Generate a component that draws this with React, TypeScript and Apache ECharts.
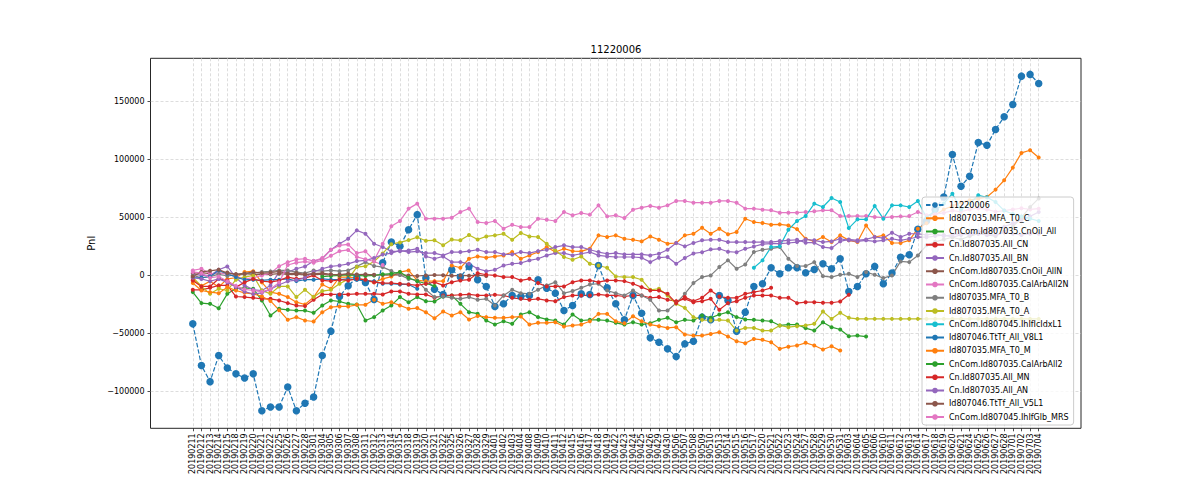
import { useEffect, useRef } from 'react';
import * as echarts from 'echarts';

const DATES = [
  '20190211', '20190212', '20190213', '20190214', '20190215', '20190218', '20190219', '20190220', '20190221', '20190222',
  '20190225', '20190226', '20190227', '20190228', '20190301', '20190304', '20190305', '20190306', '20190307', '20190308',
  '20190311', '20190312', '20190313', '20190314', '20190315', '20190318', '20190319', '20190320', '20190321', '20190322',
  '20190325', '20190326', '20190327', '20190328', '20190329', '20190401', '20190402', '20190403', '20190404', '20190408',
  '20190409', '20190410', '20190411', '20190412', '20190415', '20190416', '20190417', '20190418', '20190419', '20190422',
  '20190423', '20190424', '20190425', '20190426', '20190429', '20190430', '20190506', '20190507', '20190508', '20190509',
  '20190510', '20190513', '20190514', '20190515', '20190516', '20190517', '20190520', '20190521', '20190522', '20190523',
  '20190524', '20190527', '20190528', '20190529', '20190530', '20190531', '20190603', '20190604', '20190605', '20190606',
  '20190610', '20190611', '20190612', '20190613', '20190614', '20190617', '20190618', '20190619', '20190620', '20190621',
  '20190624', '20190625', '20190626', '20190627', '20190628', '20190701', '20190702', '20190703', '20190704',
];

const Y_TICKS = [-100000, -50000, 0, 50000, 100000, 150000];

// account total (big dashed markers)
const TOTAL = [
  -41800, -77800, -91700, -69200, -79900, -85000, -88500, -85000, -116800, -113600,
  -113600, -96300, -116800, -110400, -104900, -69200, -48100, -18200, -8900, -2000,
  -6000, -20800, 11000, 28800, 25100, 39500, 52500, -2300, -12000, -16400,
  4900, -1400, 7800, -3700, -9500, -26800, -24500, -17300, -18200, -17300,
  -3700, -11000, -15300, -30300, -25900, -15900, -16400, 8600, -10700, -24500,
  -38300, -17300, -32600, -53900, -57700, -63400, -70100, -59100, -56800, -36000,
  -38300, -17300, -21600, -48100, -31700, -9500, -7200, 6600, 1400, 6600,
  6600, 2300, 5200, 10100, 5800, 14400, -13800, -9500, 1400, 7800,
  -7200, 2000, 15600, 17900, 39800, 47000, 57000, 67700, 104400, 77000,
  85600, 114700, 112400, 126000, 137000, 147600, 172100, 173600, 165800,
];

const MFA_T0_C = [
  -3000, -9000, -5000, -10000, -3000, -2000, 2900, 3700, -6000, -14400,
  -15900, -18700, -23100, -25100, -18700, -7800, -11500, -1400, -1400, -2000,
  -4300, -6000, -3000, -1000, 2900, 4300, -4300, -4900, -4900, -4900,
  8600, 6600, 14400, 16400, 15300, 16400, 17300, 20200, 14400, 17300,
  20200, 24500, 20200, 23100, 21000, 20800, 23100, 34600, 33200, 34600,
  31700, 30800, 29400, 33700, 30800, 27400, 28000, 34600, 36000, 41200,
  36000, 40400, 35500, 37500, 49000, 46100, 45300, 43800, 44100, 43200,
  40000, 31700, 29400, 33200, 28800, 34600, 30300, 28800, 43200, 33200,
  34600, 28000, 28000, 30300, 40400, 45000, 52000, 57000, 60000, 63000,
  65000, 66300, 67700, 74100, 82200, 93100, 105800, 108100, 101800,
];

const CNOIL_ALL = [
  -14400, -23900, -24500, -28300, -15900, -11500, -10700, -11500, -21600, -34600,
  -28800, -29700, -30300, -30300, -32300, -25900, -21600, -22500, -24500, -25100,
  -38900, -36000, -30300, -25900, -18700, -23100, -18700, -22200, -22500, -18200,
  -17300, -24500, -31700, -33000, -38900, -42400, -39600, -41800, -33700, -31700,
  -36000, -38000, -38900, -42400, -33700, -38900, -38300, -38300, -38900, -40900,
  -42400, -40400, -42400, -41200, -38300, -36600, -40400, -38300, -38900, -34600,
  -36600, -33700, -31700, -36000, -38000, -38300, -38900, -39600, -43200, -42400,
  -42400, -45500, -47600, -40400, -44700, -46700, -52500, -51900, -52800,
];

const ALL_CN = [
  -12400, -12400, -10700, -8600, -8600, -18200, -18700, -19300, -20200, -20200,
  -21600, -23900, -26000, -26500, -21000, -16400, -16400, -16400, -16400, -15900,
  -15900, -15900, -16400, -13800, -13800, -15900, -16400, -16400, -19300, -17300,
  -17300, -16700, -16400, -17300, -17300, -16700, -17300, -19300, -20200, -21000,
  -20200, -21600, -22200, -18700, -17300, -17300, -17300, -16400, -17300, -17300,
  -18200, -17300, -17300, -19300, -18700, -21000, -22200, -20200, -23100, -22200,
  -20200, -29700, -23900, -22200, -19300, -17300, -17300, -17300, -19300, -19300,
  -23900, -23100, -23100, -23600, -23600, -22500, -16700,
];

const ALL_BN = [
  1400, 0, 0, 4900, 7800, -2000, -8600, -12400, -13000, -8600,
  2900, 2900, 5800, 7800, 12400, 14400, 22200, 27400, 31700, 38900,
  36000, 27400, 24500, 20800, 20800, 21600, 23100, 16400, 14400, 16400,
  11500, 11500, 10100, 5800, 3700, 4900, 8600, 10100, 10700, 13000,
  14400, 17300, 19300, 19300, 17300, 18700, 20200, 17300, 16400, 15900,
  15900, 15900, 15300, 11500, 15300, 15900, 10100, 15000, 19000, 20000,
  22500, 23000, 20500, 20000, 23000, 25000, 27000, 27500, 27400, 28000,
  28800, 31100, 30300, 28800, 29400, 31700, 30300, 29400, 30300, 29400,
  30300, 31700, 30300, 31700, 33200, 33000, 34000, 35000, 33000, 35000,
  36000, 38000, 37000, 40000, 42000, 45000, 48000, 51000, 54800,
];

const CNOIL_ALLN = [
  2000, 2500, 1500, 1500, 2500, 1000, 1500, 800, 1200, 1000,
  1500, 1000, 800, 600, 1000, 800, 500, 800, 1000, 500,
  600, 400, 300, 500, 600, 0, -500, 0, 300, 200,
  -300, 0, -200, 300, -500,
];

const CALARB2N = [
  4300, 5800, 1400, 2000, 1000, -1000, -3000, -2000, 0, 2000,
  8000, 11500, 13800, 14400, 12400, 15000, 22200, 25900, 26800, 19300,
  20800, 13000, 27400, 42400, 47000, 57700, 62000, 49000, 49000, 49000,
  49900, 54800, 57700, 46100, 45300, 47000, 40400, 43800, 41800, 41800,
  49000, 48100, 47000, 54800, 51900, 53900, 52500, 60500, 51000, 51900,
  49600, 56800, 58500, 60000, 58500, 60500, 64300, 64300, 62800, 62800,
  62800, 64300, 64300, 62800, 57700, 57700, 56800, 56200, 54200, 54200,
  54200, 54800, 55400, 56200, 56200, 51300, 51300, 51300, 51300, 50500,
  49900, 50500, 51000, 51300, 54800, 52000, 53000, 54000, 56000, 55000,
  57000, 58000, 57000, 55000, 56000, 57000, 58000, 57000, 57700,
];

const MFA_T0_B = [
  0, -2000, -1000, 1000, -500, 500, 1500, 2000, 3000, 3500,
  4300, 4300, 2900, 2000, 4300, 3700, 4300, 3700, 4300, 7800,
  11500, 8200, 7200, 3900, 400, -3000, -4300, -12400, -18700, -18200,
  -19300, -20200, -18700, -21000, -20200, -25900, -17300, -12400, -15300, -15900,
  -12400, -8600, -5800, -15300, -13500, -10700, -7800, -7200, -13000, -15300,
  -17300, -13000, -17300, -21000, -30300, -30300, -23900, -15900, -6600, -1400,
  0, 7200, 13000, 5800, 9500, 20200, 22200, 23100, 24500, 14400,
  8200, 8100, 11500, -600, -1400, 600, 1400, -1400, 2900, 600,
  -2300, 0, 12100, 11500, 17300, 26000, 29000, 31000, 33000, 31000,
  34000, 36000, 35000, 34000, 38000, 42000, 50000, 59000, 66500,
];

const MFA_T0_A = [
  -1400, -9500, -15900, -11500, -13000, -3700, -1400, 0, -13000, -15900,
  -9500, -9500, -18700, -12400, -18700, -13500, -12400, -7200, -3200, 7200,
  8000, 12000, 19000, 27000, 28500, 30500, 33000, 30000, 30300, 26000,
  31000, 30300, 35000, 31000, 33700, 34600, 36000, 30800, 36600, 33700,
  33200, 27400, 21600, 15900, 13500, 16400, 10100, 8600, 6600, -900,
  -1400, -1400, -3700, -12400, -11500, -17300, -24500, -28000, -36000, -38300,
  -38900, -38300, -38900, -47600, -45300, -45300, -47600, -47600, -43200, -44700,
  -43800, -43200, -41800, -31100, -37500, -32300, -36600, -37500, -37500, -37500,
  -37500, -37500, -37500, -37500, -37500, -37500, -37500, -37500, -37500, -37500,
  -37500, -37500, -37500, -37500, -37500, -37500, -37500, -37500, -37500,
];

// starts on 20190517
const IDX_L1_START = 65;
const IDX_L1 = [
  6600, 13000, 24500, 25100, 39500, 47000, 51300, 62000, 59100, 66900,
  63400, 40900, 48400, 48400, 60000, 49000, 60500, 60500, 59100, 64300,
  50000, 56000, 62000, 70600, 57000, 62000, 69200, 67500, 63400, 56000,
  53000, 51000, 49000, 47000,
];

const V8L1 = [
  -2000, -2000, -900, 4300, 1400, -1400, -3700, -3700, -4300, -3700,
  -3700, -2900, -4900, -3700, -3700, -2900, -3700, -3700, -2900, -3700,
  -4900, -4900, -7200, -7200, -7800, -7800, -11500,
];

const MFA_T0_M = [
  -6600, -13000, -14400, -15300, -10100, -13000, -15000, -16000, -18000, -22000,
  -30000, -38300, -36000, -38900, -39800, -31700, -27400, -26800, -26800, -25400,
  -25400, -21000, -24500, -23100, -25900, -28800, -28200, -31700, -36900, -31100,
  -34600, -31700, -38000, -35000, -36000, -36600, -36600, -36000, -35500, -42400,
  -40900, -40900, -40400, -44100, -43200, -42400, -39600, -33200, -33200, -39600,
  -41200, -35200, -39600, -42400, -43800, -45300, -44700, -51000, -51900, -51900,
  -50500, -49000, -52800, -56800, -58500, -54800, -55600, -57700, -63400, -61500,
  -60500, -58200, -60500, -64000, -61100, -64900,
];

// starts on 20190304
const CALARB2_START = 15;
const CALARB2 = [-1000, -500, 0, 500, 0, -500, 0, 1000, 1500, 2900, -2000, -5000, -7000, -9000];

const ALL_MN = [
  -4300, -9500, -9500, -2900, -4300, -10100, -6000, -3000, -5000, -5500,
  -4500, -1500, -2900, -2300, 0, -4300, -4900, -3700, -4300, -2900,
  -3700, -5800, -6600, -6600, -7200, -7800, -8600, -7200, -5800, -8600,
  -5800, -4300, -3700, 2000, 600, 0, -1400, -1400, -4300, -2900,
  -6600, -9500, -9500, -9500, -5800, -4300, -4300, -5800, -4300, -4300,
  -4900, -7200, -10100, -13000, -13000, -15900, -23900, -18700, -22200, -19300,
  -13000, -18200, -19300, -19300, -15900, -14400, -13000, -10700,
];

const ALL_AN = [
  -2000, -3000, -5000, -3000, -6000, -10000, -14000, -16000, -15000, -12000,
  -8000, -5000, -4000, -2000, 3000, 5800, 7800, 8600, 10000, 12400,
  13000, 15000, 18000, 19300, 21600, 20200, 20800, 19300, 19300, 17300,
  20200, 20200, 21000, 22200, 20200, 20200, 18200, 18200, 20200, 19300,
  21000, 22200, 24500, 26000, 24500, 24500, 22200, 20200, 18700, 19300,
  18200, 18200, 18200, 17300, 18700, 22200, 28000, 25100, 28000, 30300,
  30800, 30800, 28800, 28800, 28800, 28800, 28800, 28800, 29700, 30300,
  30800, 28300, 28300, 24500, 23600, 29400, 31100, 30300, 31100, 33200,
  32300, 36900, 33200, 36000, 36000, 35000, 36000, 34000, 35000, 36000,
  35000, 36000, 35000, 35000, 37000, 36000, 35000, 36000, 36000,
];

const V5L1 = [
  -1000, 3000, 4000, 5000, 2000, 1000, 1500, 3000, 2000, 2500,
  3500, 1500, 2000, 1000, 1500, 2000, 1000, 500, 1500, 800,
  1000, 500,
];

const MRS = [
  3000, 2000, -2000, -1000, -5000, -9000, -12000, -13000, -14000, -12000,
  -6000, 9000, 11000, 12000, 11000, 13000, 17000, 21000, 22000, 16000,
  14000, 12000, 9000,
];

const TAB10 = ['#1f77b4', '#ff7f0e', '#2ca02c', '#d62728', '#9467bd', '#8c564b', '#e377c2', '#7f7f7f', '#bcbd22', '#17becf'];

const FONT = 'DejaVu Sans';

export default function App() {
  const chartRef = useRef<HTMLDivElement>(null);

  useEffect(() => {
    if (!chartRef.current) return;
    const chart = echarts.init(chartRef.current, null, { renderer: 'svg' });

    const lines = [
      { name: '11220006', start: 0, values: TOTAL },
      { name: 'Id807035.MFA_T0_C', start: 0, values: MFA_T0_C },
      { name: 'CnCom.Id807035.CnOil_All', start: 0, values: CNOIL_ALL },
      { name: 'Cn.Id807035.All_CN', start: 0, values: ALL_CN },
      { name: 'Cn.Id807035.All_BN', start: 0, values: ALL_BN },
      { name: 'CnCom.Id807035.CnOil_AllN', start: 0, values: CNOIL_ALLN },
      { name: 'CnCom.Id807035.CalArbAll2N', start: 0, values: CALARB2N },
      { name: 'Id807035.MFA_T0_B', start: 0, values: MFA_T0_B },
      { name: 'Id807035.MFA_T0_A', start: 0, values: MFA_T0_A },
      { name: 'CnCom.Id807045.IhIfIcIdxL1', start: IDX_L1_START, values: IDX_L1 },
      { name: 'Id807046.TtTf_All_V8L1', start: 0, values: V8L1 },
      { name: 'Id807035.MFA_T0_M', start: 0, values: MFA_T0_M },
      { name: 'CnCom.Id807035.CalArbAll2', start: CALARB2_START, values: CALARB2 },
      { name: 'Cn.Id807035.All_MN', start: 0, values: ALL_MN },
      { name: 'Cn.Id807035.All_AN', start: 0, values: ALL_AN },
      { name: 'Id807046.TtTf_All_V5L1', start: 0, values: V5L1 },
      { name: 'CnCom.Id807045.IhIfGlb_MRS', start: 0, values: MRS },
    ];

    const xTicks = DATES.map((_, i) => i);
    const gridLine = {
      show: true,
      lineStyle: { color: '#d4d4d4', width: 0.8, type: [3, 2] as number[] },
    };
    const tickStyle = { color: '#222', width: 0.8 };

    const option: any = {
      animation: false,
      textStyle: { fontFamily: FONT },
      grid: {
        left: 150.5,
        right: 119,
        top: 58.3,
        bottom: 51.7,
        show: true,
        borderColor: '#262626',
        borderWidth: 1,
        backgroundColor: 'transparent',
        outerBoundsMode: 'none',
      },
      xAxis: {
        type: 'value',
        min: -4.9,
        max: 102.9,
        axisLine: { show: false, onZero: false },
        axisTick: { show: true, customValues: xTicks, length: 3, lineStyle: tickStyle },
        axisLabel: {
          customValues: xTicks,
          formatter: (v: number) => DATES[Math.round(v)] ?? '',
          rotate: 90,
          fontSize: 8,
          color: '#000',
          margin: 5,
          fontFamily: FONT,
        },
        splitLine: gridLine,
      },
      yAxis: {
        type: 'value',
        min: -132000,
        max: 187500,
        name: 'Pnl',
        nameLocation: 'middle',
        nameGap: 45,
        nameRotate: 90,
        nameTextStyle: { fontSize: 10, color: '#000', fontFamily: FONT },
        axisLine: { show: false, onZero: false },
        axisTick: { show: true, customValues: Y_TICKS, length: 3, lineStyle: tickStyle },
        axisLabel: {
          customValues: Y_TICKS,
          formatter: (v: number) => (v < 0 ? '\u2212' + Math.abs(v) : String(v)),
          fontSize: 8,
          color: '#000',
          margin: 6,
          fontFamily: FONT,
        },
        splitLine: gridLine,
      },
      legend: {
        orient: 'vertical',
        left: 922,
        top: 197,
        itemWidth: 18,
        itemHeight: 7,
        itemGap: 3.25,
        padding: [3, 5, 3, 3],
        backgroundColor: 'rgba(255,255,255,0.8)',
        borderColor: '#cccccc',
        borderWidth: 1,
        borderRadius: 3,
        selectedMode: false,
        textStyle: { fontSize: 8, lineHeight: 10, color: '#000', fontFamily: FONT },
        data: lines.map((l) => l.name),
      },
      graphic: [
        {
          type: 'text',
          x: 616,
          y: 49,
          style: {
            text: '11220006',
            fontSize: 10,
            fontFamily: FONT,
            fill: '#000',
            textAlign: 'center',
            textVerticalAlign: 'middle',
          },
        },
      ],
      series: lines.map((l, i) => {
        const color = TAB10[i % 10];
        const big = i === 0;
        return {
          name: l.name,
          type: 'line',
          data: l.values.map((v, k) => [l.start + k, v]),
          symbol: 'circle',
          symbolSize: big ? 7.5 : 4,
          color,
          itemStyle: { color },
          lineStyle: { color, width: 1.2, type: big ? [4.5, 2] : 'solid' },
          emphasis: { disabled: true },
          silent: true,
        };
      }),
    };

    chart.setOption(option);

    return () => {
      chart.dispose();
    };
  }, []);

  return (
    <div
      ref={chartRef}
      style={{ position: 'fixed', left: 0, top: 0, width: 1200, height: 480, background: '#fff' }}
    />
  );
}
